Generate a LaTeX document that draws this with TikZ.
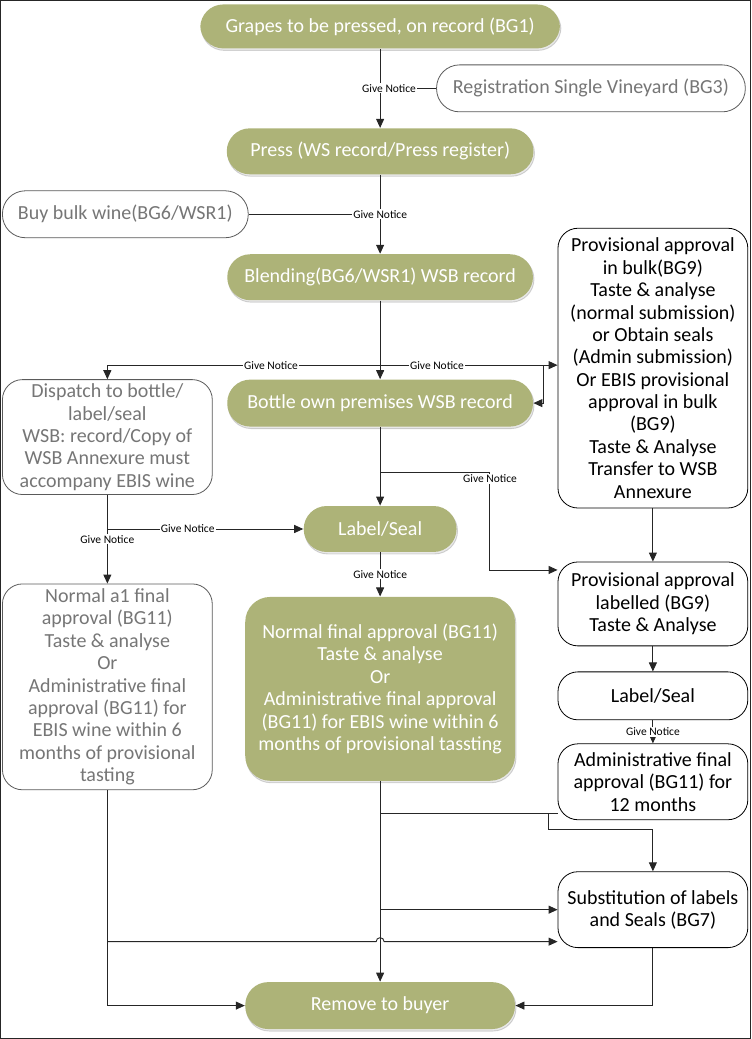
\documentclass[tikz,border=0pt]{standalone}
\usepackage{fontspec}
\setmainfont{Carlito}
\usepackage{xcolor}
\usetikzlibrary{positioning,calc,arrows.meta,shadows}
\definecolor{winegreen}{RGB}{173,179,120}
\definecolor{textgrey}{RGB}{118,118,118}
\definecolor{linegrey}{RGB}{90,90,90}

\begin{document}
\begin{tikzpicture}[x=1pt,y=-1pt,
    every node/.style={font=\fontsize{20}{22.4}\selectfont, align=center, inner sep=2pt},
    greenbox/.style={fill=winegreen, text=white, rounded corners=#1,
        drop shadow={opacity=0.18, shadow xshift=1pt, shadow yshift=-2pt}},
    greenbox/.default=23pt,
    greybox/.style={draw=linegrey, line width=0.8pt, fill=white, text=textgrey, rounded corners=#1},
    greybox/.default=23pt,
    blackbox/.style={draw=black, line width=0.8pt, fill=white, text=black, rounded corners=#1},
    blackbox/.default=20pt,
    arr/.style={-{Triangle[width=8pt,length=9pt]}},
    notice/.style={fill=white, font=\fontsize{11.5}{12}\selectfont, inner sep=1pt},
    every path/.style={line width=0.9pt, draw=black!85}]
    \useasboundingbox (0,0) rectangle (751,1039);

    % Top column
    \node[greenbox, minimum width=360pt, minimum height=44pt] (grapes) at (380,26) {Grapes to be pressed, on record (BG1)};
    \node[greybox, minimum width=309pt, minimum height=47pt] (vineyard) at (591,88) {Registration Single Vineyard (BG3)};
    \node[greenbox, minimum width=307pt, minimum height=46pt] (press) at (380,151) {Press (WS record/Press register)};
    \node[greybox, minimum width=246pt, minimum height=47pt] (bulk) at (125,214) {Buy bulk wine(BG6/WSR1)};
    \node[greenbox, minimum width=306pt, minimum height=46pt] (blend) at (380,277) {Blending(BG6/WSR1) WSB record};

    % Right column
    \node[blackbox, minimum width=190pt, minimum height=280pt] (provbulk) at (653,368) {Provisional approval\\ in bulk(BG9)\\ Taste \& analyse\\ (normal submission)\\ or Obtain seals\\ (Admin submission)\\ Or EBIS provisional\\ approval in bulk\\ (BG9)\\ Taste \& Analyse\\ Transfer to WSB\\ Annexure};
    \node[blackbox, minimum width=190pt, minimum height=84pt] (provlab) at (653,604) {Provisional approval\\ labelled (BG9)\\ Taste \& Analyse};
    \node[blackbox, minimum width=190pt, minimum height=48pt] (sealB) at (653,696) {Label/Seal};
    \node[blackbox, minimum width=190pt, minimum height=76pt] (admin) at (653,782) {Administrative final\\ approval (BG11) for\\ 12 months};
    \node[blackbox, minimum width=190pt, minimum height=76pt] (subst) at (653,910) {Substitution of labels\\ and Seals (BG7)};

    % Middle and left column
    \node[greenbox, minimum width=306pt, minimum height=47pt] (bottle) at (380,403) {Bottle own premises WSB record};
    \node[greybox=20pt, minimum width=210pt, minimum height=115pt] (dispatch) at (107,437) {Dispatch to bottle/\\ label/seal\\ WSB: record/Copy of\\ WSB Annexure must\\ accompany EBIS wine};
    \node[greenbox, minimum width=153pt, minimum height=46pt] (sealA) at (380,529) {Label/Seal};
    \node[greybox=20pt, minimum width=210pt, minimum height=206pt] (finalA) at (107,687) {Normal a1 final\\ approval (BG11)\\ Taste \& analyse\\ Or\\ Administrative final\\ approval (BG11) for\\ EBIS wine within 6\\ months of provisional\\ tasting};
    \node[greenbox=25pt, minimum width=270pt, minimum height=184pt] (finalB) at (380,689) {Normal final approval (BG11)\\ Taste \& analyse\\ Or\\ Administrative final approval\\ (BG11) for EBIS wine within 6\\ months of provisional tassting};
    \node[greenbox, minimum width=270pt, minimum height=47pt] (buyer) at (380,1006) {Remove to buyer};

    % Junctions
    \coordinate (split) at (380,365);
    \coordinate (back) at (543,365);
    \coordinate (branch) at (380,472);
    \coordinate (fork) at (107,529);
    \coordinate (join) at (380,814);
    \coordinate (adminout) at (558,814);
    \coordinate (adminsub) at (548,814);
    \coordinate (cross) at (107,942);

    % Connectors, top
    \draw[arr] (grapes) -- (press);
    \draw (vineyard.west) -- (vineyard.west -| press.north) node[notice, pos=0.84] {Give Notice};
    \draw[arr] (press) -- (blend);
    \draw (bulk.east) -- (bulk.east -| press.south) node[notice, pos=1] {Give Notice};
    \draw[arr] (blend) -- (bottle);

    % Connectors, notice row
    \draw[arr] (split) -| (dispatch.north) node[notice, pos=0.2] {Give Notice};
    \draw[arr] (split) -- (split -| provbulk.west) node[notice, pos=0.32] {Give Notice};
    \draw[arr] (back) |- (bottle.east);

    % Connectors, bottling
    \draw[arr] (bottle) -- (sealA);
    \draw[arr] (branch) -| ([yshift=34pt, xshift=-68pt]provlab.west) -- ([yshift=34pt]provlab.west);
    \node[notice] at (490,479) {Give Notice};
    \draw[arr] (provbulk) -- (provlab);
    \draw[arr] (dispatch) -- (finalA) node[notice, pos=0.5] {Give Notice};
    \draw[arr] (fork) -- (sealA.west) node[notice, pos=0.41] {Give Notice};
    \draw[arr] (sealA) -- (finalB) node[notice, midway] {Give Notice};
    \draw[arr] (provlab) -- (sealB);
    \draw[arr] (sealB) -- (admin) node[notice, midway] {Give Notice};

    % Connectors, bottom
    \draw[arr] (finalB) -- (buyer);
    \draw (adminout) -- (join);
    \draw[arr] (adminsub) -- (548,830) -| (subst.north);
    \draw[arr] (finalB.south |- subst.west) -- (subst.west);
    \draw[arr] (finalA) |- (buyer.west);
    \draw[arr] (cross) -- (376,942) arc[start angle=180, end angle=360, radius=4] -- (cross -| subst.west);
    \draw[arr] (subst) |- (buyer.east);
\end{tikzpicture}
\end{document}
